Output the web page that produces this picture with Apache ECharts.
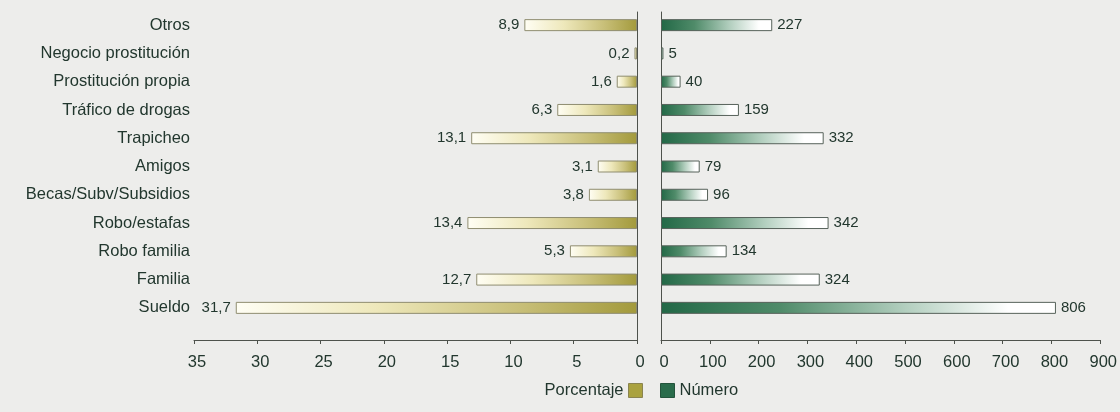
<!DOCTYPE html>
<html>
<head>
<meta charset="utf-8">
<script src="https://cdn.jsdelivr.net/npm/echarts@6/dist/echarts.min.js"></script>
<style>
html,body{margin:0;padding:0;background:#ededeb;}
#main{width:1120px;height:412px;}
</style>
</head>
<body>
<div id="main"></div>
<script>
const categories = ['Otros','Negocio prostitución','Prostitución propia','Tráfico de drogas','Trapicheo','Amigos','Becas/Subv/Subsidios','Robo/estafas','Robo familia','Familia','Sueldo'];
const porcentaje = [8.9,0.2,1.6,6.3,13.1,3.1,3.8,13.4,5.3,12.7,31.7];
const numero = [227,5,40,159,332,79,96,342,134,324,806];
const pctTicks = {min:0, max:35, interval:5};
const numTicks = {min:0, max:900, interval:100};

const FONT = "'Liberation Sans Narrow','Arial Narrow','Liberation Sans',Arial,sans-serif";
const TXT = '#22372e';
const LINE = '#4e524c';

const chart = echarts.init(document.getElementById('main'), null, {renderer:'canvas'});

const leftGrad = new echarts.graphic.LinearGradient(0,0,1,0,[
  {offset:0,color:'#fffef4'},
  {offset:0.35,color:'#eee8bb'},
  {offset:0.7,color:'#c9c07a'},
  {offset:1,color:'#a39a3c'}
]);
const rightGrad = new echarts.graphic.LinearGradient(0,0,1,0,[
  {offset:0,color:'#226846'},
  {offset:0.3,color:'#4f8b69'},
  {offset:0.62,color:'#b3cfbf'},
  {offset:0.88,color:'#ffffff'},
  {offset:1,color:'#ffffff'}
]);

const fmt = v => String(v).replace('.', ',');

chart.setOption({
  backgroundColor:'#ededeb',
  animation:false,
  textStyle:{fontFamily:FONT, color:TXT},
  legend:[
    {data:[{name:'Porcentaje', icon:'rect', itemStyle:{color:'#aaa23f', borderColor:'#8a8450', borderWidth:1}}],
     align:'right', right:477, top:382, padding:0, itemWidth:14, itemHeight:14,
     textStyle:{fontFamily:FONT, fontSize:16.5, color:TXT}},
    {data:[{name:'Número', icon:'rect', itemStyle:{color:'#2a6c4b', borderColor:'#24543c', borderWidth:1}}],
     align:'left', left:660, top:382, padding:0, itemWidth:14, itemHeight:14,
     textStyle:{fontFamily:FONT, fontSize:16.5, color:TXT}}
  ],
  grid:[
    {left:194, width:443, top:11, height:311},
    {left:661, width:441, top:11, height:311},
    {left:194, width:443, top:12, height:328},
    {left:661, width:441, top:12, height:328}
  ],
  xAxis:[
    {gridIndex:0, type:'value', inverse:true, min:pctTicks.min, max:pctTicks.max, interval:pctTicks.interval, show:false},
    {gridIndex:1, type:'value', min:numTicks.min, max:numTicks.max, interval:numTicks.interval, show:false},
    {gridIndex:2, type:'value', inverse:true, min:pctTicks.min, max:pctTicks.max, interval:pctTicks.interval,
     axisLine:{show:true, lineStyle:{color:LINE, width:1}},
     axisTick:{show:true, length:4, lineStyle:{color:LINE}},
     axisLabel:{fontFamily:FONT, fontSize:16.5, color:TXT, margin:14, padding:[0,0,0,6]},
     splitLine:{show:false}},
    {gridIndex:3, type:'value', min:numTicks.min, max:numTicks.max, interval:numTicks.interval,
     axisLine:{show:true, lineStyle:{color:LINE, width:1}},
     axisTick:{show:true, length:4, lineStyle:{color:LINE}},
     axisLabel:{fontFamily:FONT, fontSize:16.5, color:TXT, margin:14, padding:[0,0,0,6]},
     splitLine:{show:false}}
  ],
  yAxis:[
    {gridIndex:0, type:'category', data:categories, inverse:true, position:'left',
     axisLine:{show:false}, axisTick:{show:false},
     axisLabel:{fontFamily:FONT, fontSize:16.5, color:TXT, margin:4}},
    {gridIndex:1, type:'category', data:categories, inverse:true, show:false},
    {gridIndex:2, type:'value', min:0, max:1, position:'right',
     axisLine:{show:true, lineStyle:{color:LINE, width:1}}, axisTick:{show:false}, axisLabel:{show:false}, splitLine:{show:false}},
    {gridIndex:3, type:'value', min:0, max:1, position:'left',
     axisLine:{show:true, lineStyle:{color:LINE, width:1}}, axisTick:{show:false}, axisLabel:{show:false}, splitLine:{show:false}}
  ],
  series:[
    {name:'Porcentaje', type:'bar', xAxisIndex:0, yAxisIndex:0, data:porcentaje, barWidth:12,
     itemStyle:{color:leftGrad, borderColor:'#8f8d70', borderWidth:1},
     label:{show:true, position:'left', distance:5, formatter:p=>fmt(p.value), fontFamily:FONT, fontSize:15, color:TXT}},
    {name:'Número', type:'bar', xAxisIndex:1, yAxisIndex:1, data:numero, barWidth:12,
     itemStyle:{color:rightGrad, borderColor:'#56625a', borderWidth:1},
     label:{show:true, position:'right', distance:5, formatter:p=>fmt(p.value), fontFamily:FONT, fontSize:15, color:TXT}}
  ]
});
</script>
</body>
</html>
